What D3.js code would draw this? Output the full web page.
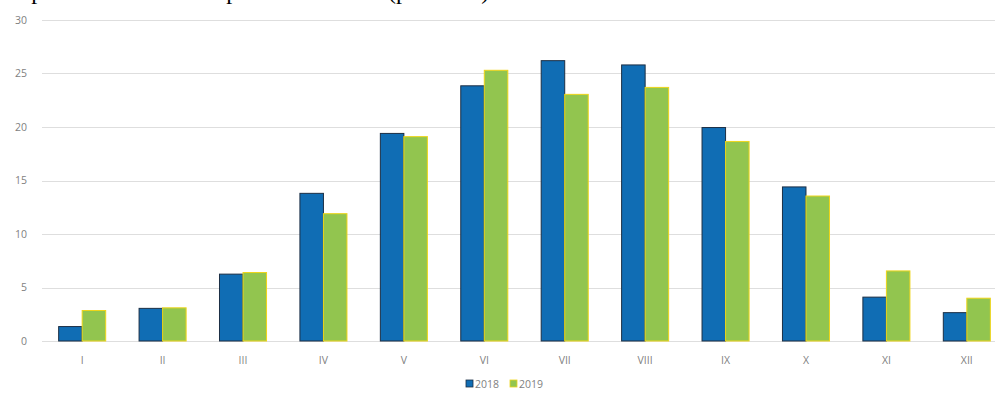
<!DOCTYPE html>
<html><head><meta charset="utf-8">
<script src="https://cdn.jsdelivr.net/npm/d3@7"></script>
<style>body{margin:0;background:#fff}svg{display:block}</style>
</head><body>
<svg id="c" width="995" height="398"></svg>
<script>
const months = ["I","II","III","IV","V","VI","VII","VIII","IX","X","XI","XII"];
const series = ["2018","2019"];
const values2018 = [1.35, 3.05, 6.25, 13.8, 19.4, 23.85, 26.2, 25.8, 19.95, 14.4, 4.1, 2.65];
const values2019 = [2.85, 3.1, 6.4, 11.9, 19.1, 25.3, 23.05, 23.7, 18.65, 13.55, 6.55, 4.0];
const yTicks = [0, 5, 10, 15, 20, 25, 30];
const colors = {"2018": "#106db4", "2019": "#92c54f"};
const strokes = {"2018": "#1c2f45", "2019": "#eed51a"};

const svg = d3.select("#c");
const y = d3.scaleLinear().domain([0, 30]).range([341, 20]);
const x0 = d3.scaleBand().domain(months).range([42, 1007]).paddingInner(0.415).paddingOuter(0.207);
const x1 = d3.scaleBand().domain(series).range([0, x0.bandwidth()]);

// title (cut off at the top edge in the reference, only descenders visible)
const t = svg.append("text").attr("y", -1).attr("font-family", "Liberation Serif").attr("font-size", 24).attr("fill", "#000");
t.append("tspan").attr("x", -11).text("Temperature in 2018");
t.append("tspan").attr("x", 185).text("compared with 2019");
t.append("tspan").attr("x", 388).text("(per mon.)");

// grid
svg.append("g").selectAll("line").data(yTicks).join("line")
  .attr("x1", 42).attr("x2", 1007)
  .attr("y1", d => Math.round(y(d)) + 0.5).attr("y2", d => Math.round(y(d)) + 0.5)
  .attr("stroke", "#dedede").attr("stroke-width", 1);

// y labels
svg.append("g").selectAll("text").data(yTicks).join("text")
  .attr("x", 27).attr("y", d => y(d)).attr("dy", "0.35em")
  .attr("text-anchor", "end").attr("font-family", "Open Sans").attr("font-size", 10.5)
  .attr("fill", "#7f7f7f").text(d => d);

// bars
const rows = months.map((m, i) => ({m, vals: [{s: "2018", v: values2018[i]}, {s: "2019", v: values2019[i]}]}));
const g = svg.append("g").selectAll("g").data(rows).join("g")
  .attr("transform", d => `translate(${x0(d.m)},0)`);
g.selectAll("rect").data(d => d.vals).join("rect")
  .attr("x", d => x1(d.s)).attr("width", x1.bandwidth())
  .attr("y", d => y(d.v)).attr("height", d => y(0) - y(d.v))
  .attr("fill", d => colors[d.s]).attr("stroke", d => strokes[d.s]).attr("stroke-width", 1);

// x labels
svg.append("g").selectAll("text").data(months).join("text")
  .attr("x", d => x0(d) + x0.bandwidth() / 2).attr("y", 360).attr("dy", "0.35em")
  .attr("text-anchor", "middle").attr("font-family", "Open Sans").attr("font-size", 10.5)
  .attr("fill", "#7f7f7f").text(d => d);

// legend
const lg = svg.append("g").attr("transform", "translate(466,384)");
const li = lg.selectAll("g").data(series).join("g").attr("transform", (d, i) => `translate(${i * 44},0)`);
li.append("rect").attr("x", 0).attr("y", -4).attr("width", 7).attr("height", 7)
  .attr("fill", d => colors[d]).attr("stroke", d => strokes[d]).attr("stroke-width", 0.8);
li.append("text").attr("x", 9).attr("y", 0).attr("dy", "0.35em")
  .attr("font-family", "Open Sans").attr("font-size", 10.5).attr("fill", "#7f7f7f").text(d => d);
</script>
</body></html>
